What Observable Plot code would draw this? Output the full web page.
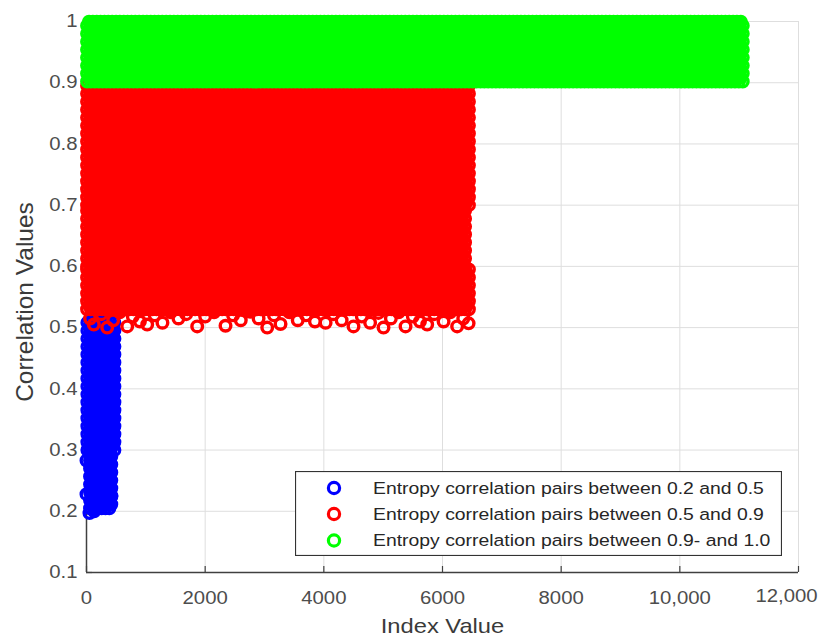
<!DOCTYPE html>
<html>
<head>
<meta charset="utf-8">
<script src="https://cdn.jsdelivr.net/npm/d3@7"></script>
<script src="https://cdn.jsdelivr.net/npm/@observablehq/plot@0.6"></script>
<style>
  html, body { margin: 0; padding: 0; background: #fff; }
  #wrap { position: relative; width: 820px; height: 639px; }
  #legend { position: absolute; left: 295px; top: 471px; }
</style>
</head>
<body>
<div id="wrap"></div>
<script>
// ---- axis ticks ----
const xTicks = [0, 2000, 4000, 6000, 8000, 10000, 12000];
const xTickLabels = ["0", "2000", "4000", "6000", "8000", "10,000", "12,000"];
const yTicks = [0.1, 0.2, 0.3, 0.4, 0.5, 0.6, 0.7, 0.8, 0.9, 1.0];
const yTickLabels = ["0.1", "0.2", "0.3", "0.4", "0.5", "0.6", "0.7", "0.8", "0.9", "1"];
const xLabel = "Index Value";
const yLabel = "Correlation Values";

// ---- series ----
const seriesNames = [
  "Entropy correlation pairs between 0.2 and 0.5",
  "Entropy correlation pairs between 0.5 and 0.9",
  "Entropy correlation pairs between 0.9- and 1.0"
];
const seriesColors = ["#0000ff", "#ff0000", "#00ff00"];

// densely packed regions: [indexFrom, indexTo, corrFrom, corrTo]
const blueBlocks = [[15, 470, 0.30, 0.51], [60, 440, 0.205, 0.30]];
const redBlocks = [[10, 6455, 0.70, 0.895], [10, 6400, 0.60, 0.70], [10, 6460, 0.53, 0.60]];
const greenBlocks = [[10, 11070, 0.902, 1.0]];
// sampling density of the packed regions (index step, correlation step)
const packStep = [65, 0.0065];

// individually visible circles along the ragged edges: [index, correlation]
const blueEdge = [[0, 0.283], [0, 0.228], [50, 0.197], [130, 0.2], [300, 0.21], [420, 0.225]];
const redEdge = [
  [60, 0.515], [123, 0.505], [250, 0.522], [349, 0.50], [450, 0.512], [560, 0.525], [686, 0.502],
  [780, 0.518], [900, 0.51], [1023, 0.505], [1150, 0.52], [1280, 0.508], [1420, 0.525],
  [1550, 0.515], [1680, 0.522], [1866, 0.502], [2000, 0.518], [2150, 0.525], [2343, 0.503],
  [2470, 0.52], [2600, 0.512], [2760, 0.526], [2900, 0.515], [3046, 0.50], [3160, 0.52],
  [3270, 0.506], [3420, 0.525], [3560, 0.512], [3700, 0.52], [3850, 0.51], [4030, 0.508],
  [4160, 0.522], [4300, 0.512], [4500, 0.502], [4640, 0.518], [4780, 0.508], [4920, 0.524],
  [5006, 0.50], [5130, 0.515], [5260, 0.525], [5377, 0.502], [5500, 0.518], [5620, 0.51],
  [5742, 0.505], [5860, 0.522], [6018, 0.51], [6130, 0.525], [6247, 0.502], [6350, 0.515],
  [6440, 0.507]
];

// build the point table from the blocks + edge circles
function pack(blocks, edge, s) {
  const pts = [];
  for (const [x0, x1, y0, y1] of blocks) {
    let row = 0;
    for (let y = y0; y <= y1 + 1e-9; y += packStep[1], row++) {
      const off = (row % 2) * packStep[0] / 2;
      for (let x = x0 + off; x <= x1 + 1e-9; x += packStep[0]) pts.push({x, y, s});
    }
  }
  for (const [x, y] of edge) pts.push({x, y, s});
  return pts;
}
const bluePts = pack(blueBlocks, blueEdge, 0);
const redPts = pack(redBlocks, redEdge, 1);
const greenPts = pack(greenBlocks, [], 2);

const W = 820, H = 639, mL = 86, mR = 22, mT = 21, mB = 67;
const axisColor = "#404040", tickText = "#4d4d4d", gridColor = "#dedede";
const dotOpts = (i) => ({x: "x", y: "y", r: 5.3, stroke: seriesColors[i], strokeWidth: 3.4, fill: "none"});
const xFmt = d => xTickLabels[xTicks.indexOf(d)];
const yFmt = d => yTickLabels[yTicks.indexOf(d)];

const chart = Plot.plot({
  width: W, height: H,
  marginLeft: mL, marginRight: mR, marginTop: mT, marginBottom: mB,
  x: {domain: [0, 12000]},
  y: {domain: [0.1, 1.0]},
  style: {fontFamily: "'Liberation Sans', Arial, sans-serif", fontSize: "18px", background: "#fff"},
  marks: [
    Plot.gridX(xTicks, {stroke: gridColor, strokeOpacity: 1, strokeWidth: 1}),
    Plot.gridY(yTicks, {stroke: gridColor, strokeOpacity: 1, strokeWidth: 1}),
    Plot.ruleY([0.1], {stroke: axisColor, strokeWidth: 1.5}),
    Plot.ruleX([0], {stroke: axisColor, strokeWidth: 1.5}),
    Plot.tickX(xTicks, {x: d => d, stroke: axisColor, strokeWidth: 1.2, insetTop: H - mT - mB - 6}),
    Plot.tickY(yTicks, {y: d => d, stroke: axisColor, strokeWidth: 1.2, insetRight: W - mL - mR - 6}),
    Plot.dot(bluePts, dotOpts(0)),
    Plot.dot(redPts, dotOpts(1)),
    Plot.dot(greenPts, dotOpts(2)),
    Plot.axisX(xTicks.slice(0, -1), {tickSize: 0, tickPadding: 19, fill: tickText, label: null, tickFormat: xFmt}),
    Plot.axisX(xTicks.slice(-1), {tickSize: 0, tickPadding: 19, fill: tickText, label: null, tickFormat: xFmt, dx: -12, dy: -2}),
    Plot.axisY(yTicks, {tickSize: 0, tickPadding: 9, fill: tickText, label: null, tickFormat: yFmt}),
    Plot.text([xLabel], {text: d => d, frameAnchor: "bottom", textAnchor: "middle", lineAnchor: "middle", dy: 54, fontSize: 21, fill: "#3a3a3a"}),
    Plot.text([yLabel], {text: d => d, frameAnchor: "left", textAnchor: "middle", lineAnchor: "middle", dx: -61, dy: 5, rotate: -90, fontSize: 24.5, fill: "#3a3a3a"})
  ]
});

// the reference's horizontal text is stretched sideways; widen glyphs around each anchor
d3.select(chart).selectAll("text").each(function () {
  const t = this.getAttribute("transform") || "";
  if (!t.includes("rotate")) this.setAttribute("transform", t + " scale(1.13,1)");
});

const wrap = document.getElementById("wrap");
wrap.appendChild(chart);

// legend box inside the plot area
const lw = 487, lh = 85;
const legend = d3.select(wrap).append("svg")
  .attr("id", "legend").attr("width", lw).attr("height", lh)
  .style("font-family", "'Liberation Sans', Arial, sans-serif");
legend.append("rect").attr("x", 0.5).attr("y", 0.5).attr("width", lw - 1).attr("height", lh - 1)
  .attr("fill", "#fff").attr("stroke", "#333").attr("stroke-width", 1.2);
const rowY = [17, 43, 69.5];
seriesNames.forEach((name, i) => {
  legend.append("circle").attr("cx", 39).attr("cy", rowY[i]).attr("r", 5.6)
    .attr("fill", "none").attr("stroke", seriesColors[i]).attr("stroke-width", 3.2);
  legend.append("text").attr("transform", `translate(78,${rowY[i]}) scale(1.14,1)`)
    .attr("dy", "0.35em").attr("font-size", 17).attr("fill", "#262626").text(name);
});
</script>
</body>
</html>
